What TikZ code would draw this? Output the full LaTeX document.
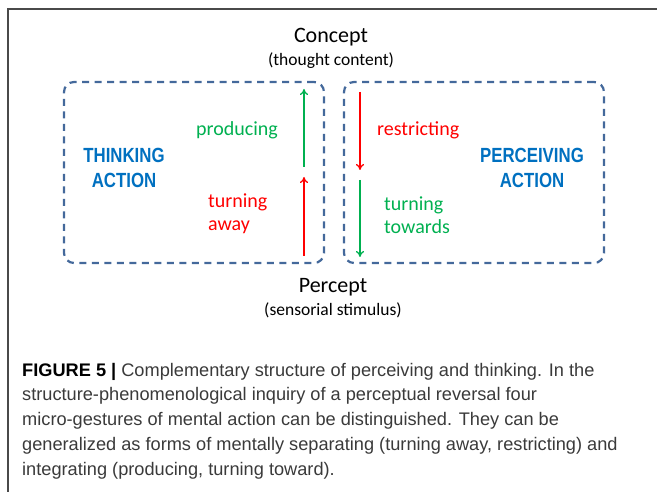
\documentclass[tikz,border=0pt]{standalone}
\usepackage{fontspec}
\setmainfont{Carlito}
\newfontfamily\narrowfont[FakeStretch=0.82]{Liberation Sans}
\newfontfamily\captionfont{Liberation Sans}
\usepackage{tikz}
\usetikzlibrary{arrows.meta, positioning}
\definecolor{boxblue}{HTML}{44699B}
\definecolor{actblue}{HTML}{0070C0}
\definecolor{upgreen}{HTML}{00B050}
\definecolor{downred}{HTML}{FF0000}
\definecolor{capgray}{HTML}{3A3A3A}
\definecolor{framegray}{HTML}{4A4A4A}
\tikzstyle{actionbox} = [rectangle, rounded corners=10pt, minimum width=260pt, minimum height=181pt, draw=boxblue, dash pattern=on 7pt off 5.5pt, line width=2.2pt]
\tikzstyle{action} = [font=\narrowfont\bfseries\fontsize{20.5}{25}\selectfont, text=actblue, align=center, anchor=base, inner sep=0pt]
\tikzstyle{gesture} = [font=\fontsize{20}{23}\selectfont, align=left, anchor=base west, inner sep=0pt]
\tikzstyle{pole} = [font=\fontsize{22}{26}\selectfont, anchor=base, inner sep=0pt]
\tikzstyle{polenote} = [font=\fontsize{17.5}{20}\selectfont, anchor=base, inner sep=0pt]
\tikzstyle{arrow} = [-{To[length=6pt,width=8pt]}, line width=1.3pt]

\begin{document}
\begin{tikzpicture}[x=1pt, y=-1pt]
  \useasboundingbox (0,0) rectangle (657,492);
  \draw [framegray, line width=1.5pt] (657,9) -- (8,9) -- (8,492);

  \node (think) [actionbox] at (194,172.5) {};
  \node (perceive) [actionbox] at (474,172.5) {};

  % multi-line nodes sit on the baseline of their last line
  \node (concept) [pole] at (331,43) {Concept};
  \node (thought) [polenote] at (331,66) {(thought content)};
  \node (percept) [pole] at (333,293) {Percept};
  \node (sensorial) [polenote] at (333,316) {(sensorial stimulus)};

  \node (thinking) [action] at (124,188) {THINKING\\ACTION};
  \node (perceiving) [action] at (532,188) {PERCEIVING\\ACTION};

  \node (producing) [gesture, text=upgreen] at (196,136) {producing};
  \node (away) [gesture, text=downred] at (208,231) {turning\\away};
  \node (restricting) [gesture, text=downred] at (377,136) {restricting};
  \node (towards) [gesture, text=upgreen] at (384,234) {turning\\towards};

  \coordinate (thinktop) at (304,89);
  \coordinate (thinkmid) at (304,167);
  \coordinate (thinkmid2) at (304,177);
  \coordinate (thinkbot) at (304,256);
  \coordinate (perctop) at (360,92);
  \coordinate (percmid) at (360,170);
  \coordinate (percmid2) at (360,180);
  \coordinate (percbot) at (360,257);

  \draw [arrow, upgreen] (thinkmid) -- (thinktop);
  \draw [arrow, downred] (thinkbot) -- (thinkmid2);
  \draw [arrow, downred] (perctop) -- (percmid);
  \draw [arrow, upgreen] (percmid2) -- (percbot);

  \node (caption) [anchor=base west, inner sep=0pt, align=left, text=capgray,
    font=\captionfont\fontsize{18.2}{24.7}\selectfont] at (22,475)
    {{\color{black}\bfseries FIGURE 5 |} Complementary structure of perceiving and thinking. In the\\
     structure-phenomenological inquiry of a perceptual reversal four\\
     micro-gestures of mental action can be distinguished. They can be\\
     generalized as forms of mentally separating (turning away, restricting) and\\
     integrating (producing, turning toward).};
\end{tikzpicture}
\end{document}
